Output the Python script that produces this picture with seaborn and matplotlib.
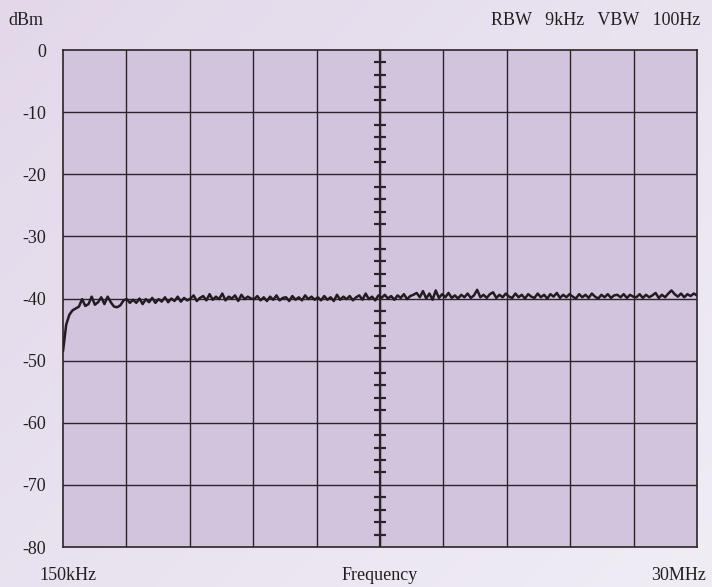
import numpy as np
import pandas as pd
import matplotlib
matplotlib.use("Agg")
import matplotlib.pyplot as plt
import seaborn as sns

level_dbm = [
    # column 1
    -48.5, -44.2, -42.6, -41.9, -41.6, -41.3, -40.1, -41.2, -40.9, -39.7,
    -41.0, -40.6, -39.8, -40.9, -39.7, -40.6, -41.3, -41.4, -41.1, -40.3,
    # column 2
    -40.1, -40.7, -40.2, -40.7, -40.0, -40.9, -40.1, -40.6, -39.9, -40.7,
    -40.1, -40.5, -39.8, -40.6, -40.0, -40.4, -39.7, -40.5, -39.9, -40.3,
    # column 3
    -40.0, -39.5, -40.4, -39.9, -39.6, -40.3, -39.3, -40.2, -39.7, -40.1,
    -39.2, -40.3, -39.7, -40.0, -39.5, -40.4, -39.4, -40.1, -39.7, -40.0,
    # column 4
    -40.1, -39.6, -40.3, -39.8, -40.4, -39.7, -40.2, -39.5, -40.3, -39.9,
    -39.8, -40.4, -39.6, -40.2, -39.8, -40.3, -39.5, -40.1, -39.7, -40.2,
    # column 5
    -39.8, -40.3, -39.6, -40.2, -39.8, -40.4, -39.4, -40.2, -39.7, -40.1,
    -39.6, -40.3, -39.8, -39.5, -40.2, -39.2, -40.1, -39.7, -40.3, -39.5,
    # column 6
    -39.9, -39.4, -40.0, -39.6, -40.2, -39.5, -39.9, -39.3, -40.1, -39.6,
    -39.4, -39.1, -39.8, -38.8, -40.0, -39.2, -40.2, -38.7, -39.9, -39.3,
    # column 7
    -39.8, -39.1, -39.9, -39.5, -40.0, -39.4, -39.8, -39.2, -39.9, -39.5,
    -38.6, -39.8, -39.4, -39.9, -39.3, -39.0, -39.9, -39.4, -39.8, -39.2,
    # column 8
    -39.7, -39.9, -39.2, -39.8, -39.4, -40.0, -39.3, -39.7, -39.9, -39.2,
    -39.8, -39.4, -40.0, -39.3, -39.7, -39.1, -39.9, -39.4, -39.8, -39.3,
    # column 9
    -39.7, -40.0, -39.3, -39.8, -39.4, -39.9, -39.2, -39.7, -40.0, -39.4,
    -39.8, -39.3, -39.9, -39.5, -39.4, -39.8, -39.3, -39.9, -39.4, -39.7,
    # column 10
    -39.8, -39.3, -39.9, -39.4, -39.8, -39.5, -39.1, -39.9, -39.4, -39.8,
    -39.2, -38.7, -39.3, -39.7, -39.2, -39.8, -39.3, -39.6, -39.2, -39.5,
]

f_start_mhz = 0.15
f_stop_mhz = 30.0
y_ticks = [0, -10, -20, -30, -40, -50, -60, -70, -80]
x_divisions = 10

header_text = "RBW   9kHz   VBW   100Hz"
y_unit = "dBm"
x_labels = ["150kHz", "Frequency", "30MHz"]

freq = np.linspace(f_start_mhz, f_stop_mhz, len(level_dbm))
df = pd.DataFrame({"freq": freq, "level": level_dbm})

sns.set_style("white")
plt.rcParams["font.family"] = ["Liberation Serif", "DejaVu Serif"]

fig = plt.figure(figsize=(7.12, 5.87), dpi=100)

# soft lavender gradient behind everything
bg = fig.add_axes([0, 0, 1, 1], zorder=-10)
gx, gy = np.meshgrid(np.linspace(0, 1, 200), np.linspace(0, 1, 200))
grad = 0.55 * gx + 0.45 * gy
cmap = matplotlib.colors.LinearSegmentedColormap.from_list(
    "bgpurple", ["#e2d8ea", "#f0edf5"])
bg.imshow(grad, cmap=cmap, aspect="auto", origin="upper", extent=[0, 1, 0, 1])
bg.set_axis_off()

ax = fig.add_axes([0.0885, 0.0681, 0.8904, 0.8467])
ax.set_facecolor("#d3c4de")

sns.lineplot(data=df, x="freq", y="level", ax=ax, color="#221c22",
             linewidth=1.8, zorder=5)

ax.set_xlim(f_start_mhz, f_stop_mhz)
ax.set_ylim(min(y_ticks), max(y_ticks))

x_grid = np.linspace(f_start_mhz, f_stop_mhz, x_divisions + 1)
for xv in x_grid[1:-1]:
    ax.axvline(xv, color="#2a2528", linewidth=1.0, zorder=2)
for yv in y_ticks[1:-1]:
    ax.axhline(yv, color="#2a2528", linewidth=1.0, zorder=2)

# centre graticule with minor marks every 2 dB
x_mid = x_grid[x_divisions // 2]
minor = [v for v in np.arange(min(y_ticks), max(y_ticks) + 1, 2) if v % 10 != 0]
ax.plot([x_mid] * len(minor), minor, linestyle="none", marker="_",
        markersize=9, markeredgewidth=1.6, color="#2a2528", zorder=3)
ax.axvline(x_mid, color="#2a2528", linewidth=1.6, zorder=3)

for s in ax.spines.values():
    s.set_color("#2a2528")
    s.set_linewidth(1.2)

ax.set_yticks(y_ticks)
ax.set_yticklabels([str(v) for v in y_ticks], fontsize=13, color="#231f20")
ax.tick_params(axis="y", length=0, pad=12)
ax.set_xticks([])
ax.set_xlabel("")
ax.set_ylabel("")

fig.text(0.012, 0.965, y_unit, fontsize=13, color="#231f20", va="center", ha="left")
fig.text(0.983, 0.965, header_text, fontsize=13, color="#231f20", va="center", ha="right")
fig.text(0.056, 0.019, x_labels[0], fontsize=13, color="#231f20", va="center", ha="left")
fig.text(0.533, 0.019, x_labels[1], fontsize=13, color="#231f20", va="center", ha="center")
fig.text(0.992, 0.019, x_labels[2], fontsize=13, color="#231f20", va="center", ha="right")

fig.savefig("out.png", dpi=100)
